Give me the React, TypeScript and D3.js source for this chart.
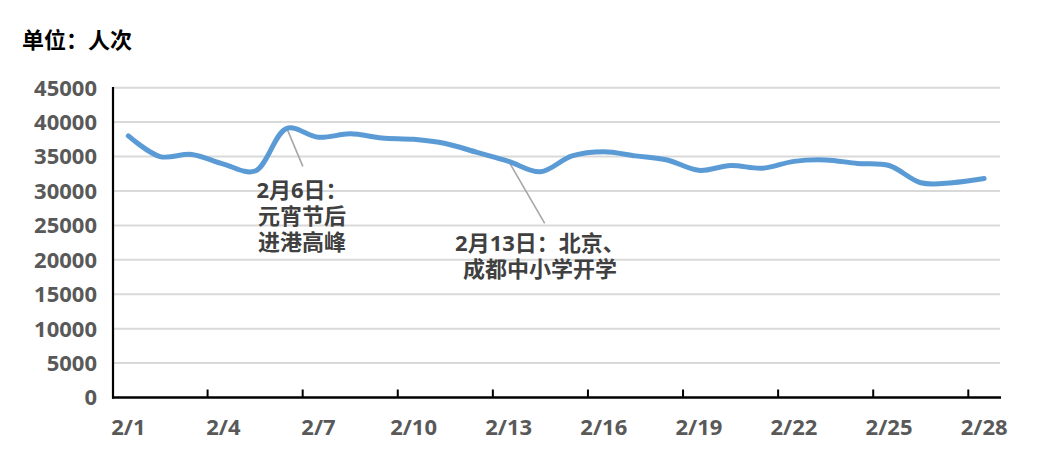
import React from 'react';
import { scaleBand, scaleLinear, line, curveCatmullRom } from 'd3';

const days = [
  '2/1', '2/2', '2/3', '2/4', '2/5', '2/6', '2/7', '2/8', '2/9', '2/10',
  '2/11', '2/12', '2/13', '2/14', '2/15', '2/16', '2/17', '2/18', '2/19', '2/20',
  '2/21', '2/22', '2/23', '2/24', '2/25', '2/26', '2/27', '2/28',
];

const passengers = [
  38000, 35000, 35300, 33900, 32900, 39100, 37800, 38300, 37700, 37500,
  36900, 35600, 34300, 32800, 35100, 35700, 35100, 34500, 33000, 33700,
  33300, 34300, 34500, 34000, 33700, 31200, 31200, 31800,
];

const yTicks = [0, 5000, 10000, 15000, 20000, 25000, 30000, 35000, 40000, 45000];
const labelDays = ['2/1', '2/4', '2/7', '2/10', '2/13', '2/16', '2/19', '2/22', '2/25', '2/28'];

const notes = [
  { day: '2/6', lines: ['2月6日：', '元宵节后', '进港高峰'], dx: 16, dy: 38, tx: 302, ty: 190 },
  { day: '2/13', lines: ['2月13日：北京、', '成都中小学开学'], dx: 36, dy: 62, tx: 540, ty: 243 },
];

const W = 1059;
const H = 469;
const font = '"Noto Sans", "Noto Sans CJK SC", sans-serif';

export default function App() {
  const x = scaleBand<string>().domain(days).range([112.5, 1000]);
  const y = scaleLinear().domain([0, 45000]).range([397.5, 87.7]);
  const cx = (d: string) => (x(d) as number) + x.bandwidth() / 2;

  const path = line<number>()
    .x((_, i) => cx(days[i]))
    .y(v => y(v))
    .curve(curveCatmullRom.alpha(0.5))(passengers) as string;

  return (
    <svg width={W} height={H} style={{ position: 'absolute', left: 0, top: 0, background: '#fff' }}>
      <text x={22} y={48} fontFamily={font} fontSize={22} fontWeight="bold" fill="#000">单位：人次</text>

      {/* grid + y labels */}
      {yTicks.map(t => (
        <g key={t}>
          {t > 0 && (
            <line x1={113} x2={1000} y1={y(t)} y2={y(t)} stroke="#d9d9d9" strokeWidth={2} />
          )}
          <text x={97} y={y(t)} dy="0.36em" textAnchor="end" fontFamily={font}
            fontSize={22} fontWeight="bold" fill="#595959">{t}</text>
        </g>
      ))}

      {/* axes */}
      <line x1={113} x2={113} y1={87} y2={398.5} stroke="#000" strokeWidth={2.2} />
      <line x1={112} x2={1001} y1={397.5} y2={397.5} stroke="#000" strokeWidth={2.6} />
      {labelDays.slice(1).map(d => (
        <line key={d} x1={x(d) as number} x2={x(d) as number} y1={389.5} y2={397.5}
          stroke="#000" strokeWidth={2} />
      ))}
      {labelDays.map(d => (
        <text key={d} x={cx(d)} y={435} textAnchor="middle" fontFamily={font}
          fontSize={22} fontWeight="bold" fill="#595959">{d}</text>
      ))}

      {/* annotations */}
      {notes.map(n => {
        const i = days.indexOf(n.day);
        const px = cx(n.day);
        const py = y(passengers[i]);
        return (
          <g key={n.day}>
            <line x1={px} y1={py} x2={px + n.dx} y2={py + n.dy} stroke="#a6a6a6" strokeWidth={1.6} />
            {n.lines.map((s, k) => (
              <text key={k} x={n.tx} y={n.ty + k * 26} dy="0.36em" textAnchor="middle"
                fontFamily={font} fontSize={22} fontWeight="bold" fill="#404040">{s}</text>
            ))}
          </g>
        );
      })}

      <path d={path} fill="none" stroke="#5b9bd5" strokeWidth={5} strokeLinecap="round" strokeLinejoin="round" />
    </svg>
  );
}
